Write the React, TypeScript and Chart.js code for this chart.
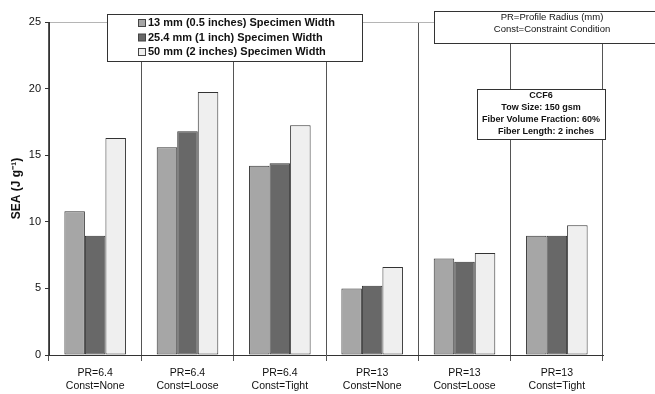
import React, { useEffect, useRef } from "react";
import { Chart, registerables } from "chart.js";

Chart.register(...registerables);

const categories: string[][] = [
  ["PR=6.4", "Const=None"],
  ["PR=6.4", "Const=Loose"],
  ["PR=6.4", "Const=Tight"],
  ["PR=13", "Const=None"],
  ["PR=13", "Const=Loose"],
  ["PR=13", "Const=Tight"],
];
const seriesLabels = [
  "13 mm (0.5 inches) Specimen Width",
  "25.4 mm (1 inch) Specimen Width",
  "50 mm (2 inches) Specimen Width",
];
const width13 = [10.8, 15.6, 14.2, 5.0, 7.25, 8.95];
const width25 = [8.95, 16.8, 14.4, 5.2, 7.0, 8.95];
const width50 = [16.3, 19.75, 17.25, 6.6, 7.65, 9.75];
const seriesColors = ["#a6a6a6", "#686868", "#efefef"];
const yTitle = "SEA (J g\u207B\u00B9)";
const noteLines = ["PR=Profile Radius (mm)", "Const=Constraint Condition"];
const infoLines = ["CCF6", "Tow Size: 150 gsm", "Fiber Volume Fraction: 60%", "Fiber Length: 2 inches"];

const FONT = "'Liberation Sans', Arial, sans-serif";

const boxesPlugin = {
  id: "boxes",
  afterDraw(chart: any) {
    const ctx = chart.ctx;
    ctx.save();
    // Legend box
    ctx.fillStyle = "#fff";
    ctx.strokeStyle = "#333";
    ctx.lineWidth = 1;
    ctx.fillRect(107.5, 14.5, 255, 47);
    ctx.strokeRect(107.5, 14.5, 255, 47);
    ctx.font = `bold 11px ${FONT}`;
    ctx.textBaseline = "middle";
    ctx.textAlign = "left";
    const rows = [23, 37.5, 52];
    seriesLabels.forEach((t, i) => {
      ctx.fillStyle = seriesColors[i];
      ctx.fillRect(138.5, rows[i] - 3.5, 7, 7);
      ctx.strokeStyle = "#444";
      ctx.strokeRect(138.5, rows[i] - 3.5, 7, 7);
      ctx.fillStyle = "#111";
      ctx.fillText(t, 148, rows[i]);
    });
    // Notes box
    ctx.fillStyle = "#fff";
    ctx.strokeStyle = "#333";
    ctx.fillRect(434.5, 11.5, 230, 32);
    ctx.strokeRect(434.5, 11.5, 230, 32);
    ctx.fillStyle = "#111";
    ctx.font = `9.5px ${FONT}`;
    ctx.textAlign = "center";
    ctx.fillText(noteLines[0], 552, 17);
    ctx.fillText(noteLines[1], 552, 29);
    // Info box
    ctx.fillStyle = "#fff";
    ctx.fillRect(477.5, 89.5, 128, 50);
    ctx.strokeRect(477.5, 89.5, 128, 50);
    ctx.fillStyle = "#111";
    ctx.font = `bold 9px ${FONT}`;
    const ys = [96, 108, 120, 132];
    const xs = [541, 541, 541, 546];
    infoLines.forEach((t, i) => ctx.fillText(t, xs[i], ys[i]));
    ctx.restore();
  },
};

export default function App() {
  const ref = useRef<HTMLCanvasElement | null>(null);
  useEffect(() => {
    if (!ref.current) return;
    const chart = new Chart(ref.current, {
      type: "bar",
      data: {
        labels: categories,
        datasets: [width13, width25, width50].map((d, i) => ({
          label: seriesLabels[i],
          data: d,
          backgroundColor: seriesColors[i],
          borderColor: "#333",
          borderWidth: 1,
          borderSkipped: false,
          categoryPercentage: 0.667,
          barPercentage: 1,
        })),
      },
      options: {
        responsive: false,
        animation: false,
        layout: { padding: { top: 22, right: 52, left: 0, bottom: 0 } },
        plugins: { legend: { display: false }, tooltip: { enabled: false } },
        scales: {
          x: {
            afterFit: (s: any) => { s.height = 39; },
            grid: { offset: true, color: "#555", lineWidth: 1, tickLength: 6, drawTicks: true },
            border: { color: "#333" },
            ticks: { color: "#111", font: { family: FONT, size: 10.5, lineHeight: 1.2 }, padding: 6, maxRotation: 0 },
          },
          y: {
            min: 0,
            max: 25,
            afterFit: (s: any) => { s.width = 49; },
            ticks: { stepSize: 5, color: "#111", font: { family: FONT, size: 11 }, padding: 4 },
            grid: {
              color: (c: any) => (c.tick && c.tick.value === 25 ? "#b5b5b5" : "rgba(0,0,0,0)"),
              tickColor: "#333",
              tickLength: 4,
            },
            border: { color: "#333" },
            title: { display: true, text: yTitle, color: "#111", font: { family: FONT, size: 12, weight: "bold" }, padding: { top: 9, bottom: 0 } },
          },
        },
      },
      plugins: [boxesPlugin],
    });
    return () => chart.destroy();
  }, []);
  return (
    <>
      <style>{`body{margin:0}`}</style>
      <canvas ref={ref} width={655} height={394} style={{ display: "block" }} />
    </>
  );
}
